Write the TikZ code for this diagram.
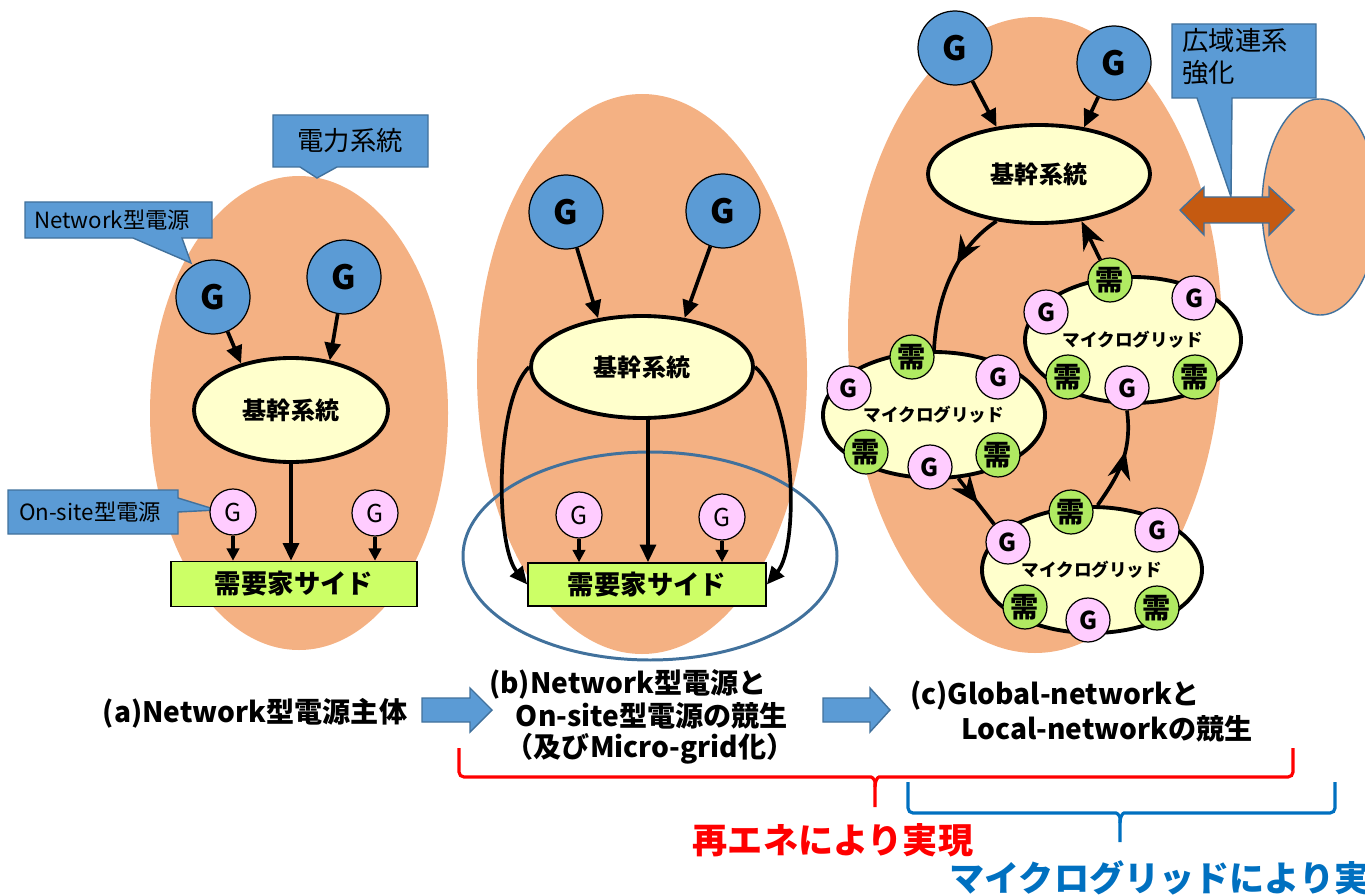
\documentclass[tikz,border=0pt]{standalone}
\usepackage{fontspec}
\setmainfont{Noto Sans CJK JP}
\usetikzlibrary{arrows.meta,shapes.geometric,decorations.markings}
\definecolor{orangeF}{HTML}{F4B183}
\definecolor{blueF}{HTML}{5B9BD5}
\definecolor{blueD}{HTML}{41719C}
\definecolor{yellowF}{HTML}{FFFFCC}
\definecolor{pinkF}{HTML}{FFCCFF}
\definecolor{limeF}{HTML}{CCFF66}
\definecolor{greenF}{HTML}{B0EA62}
\definecolor{brownF}{HTML}{C55A11}
\definecolor{redT}{HTML}{FF0000}
\definecolor{blueT}{HTML}{0070C0}
\newdimen\px \px=0.02cm
\newcommand\fsz[1]{\fontsize{#1}{#1}\selectfont}
\tikzset{
  bigell/.style={ellipse, fill=orangeF, inner sep=0},
  gnet/.style={circle, draw=black, line width=0.7pt, fill=blueF, minimum size=74\px, inner sep=0, font=\fsz{19}\bfseries},
  gsite/.style={circle, draw=black, line width=0.7pt, fill=pinkF, minimum size=46\px, inner sep=0, font=\fsz{14}},
  gmg/.style={circle, draw=black, line width=0.7pt, fill=pinkF, minimum size=44\px, inner sep=0, font=\fsz{14}\bfseries},
  demand/.style={circle, draw=black, line width=0.7pt, fill=greenF, minimum size=44\px, inner sep=0, font=\fsz{16}\bfseries},
  trunk/.style={ellipse, draw=black, line width=2.2pt, fill=yellowF, inner sep=0, font=\fsz{13.7}\bfseries},
  mgrid/.style={ellipse, draw=black, line width=2.2pt, fill=yellowF, inner sep=0, font=\fsz{10}\bfseries},
  consumer/.style={rectangle, draw=black, line width=0.9pt, fill=limeF, inner sep=0, font=\fsz{15}\bfseries},
  calloutshape/.style={fill=blueF, draw=blueD, line width=0.8pt},
  callouttext/.style={inner sep=0, font=\fsz{12.7}},
  flow/.style={-{Triangle[length=10pt,width=9pt]}, line width=2.1pt},
  flowsmall/.style={-{Triangle[length=7pt,width=7pt]}, line width=1.8pt},
  flowbig/.style={-{Stealth[length=16pt,width=13pt]}, line width=2.1pt},
  midflow/.style={line width=2.1pt, postaction={decorate},
    decoration={markings, mark=at position #1 with {\arrow{Stealth[length=16pt,width=13pt]}}}},
  midflow/.default=0.5,
  stagetext/.style={inner sep=0, font=\fsz{16}\bfseries},
  blockarrow/.style={fill=blueF, draw=blueD, line width=0.8pt},
  bracered/.style={draw=redT, line width=1.8pt, rounded corners=5\px},
  braceblue/.style={draw=blueT, line width=1.8pt, rounded corners=5\px},
}
\begin{document}
\begin{tikzpicture}[x=0.02cm,y=-0.02cm]
\useasboundingbox (0,0) rectangle (1365,895);

% ---------- background ellipses ----------
\node[bigell, minimum width=298\px, minimum height=474\px] (sysa) at (299,413) {};
\node[bigell, minimum width=330\px, minimum height=560\px] (sysb) at (642,374) {};
\node[bigell, minimum width=374\px, minimum height=636\px] (sysc) at (1035,335) {};
\node[bigell, draw=blueD, line width=0.8pt, minimum width=116\px, minimum height=216\px] (sysd) at (1320,207) {};

% ---------- panel (a) ----------
\draw[calloutshape] (273,115) -- (428,115) -- (428,167) -- (337,167) -- (317,178) -- (300,167) -- (273,167) -- cycle;
\node[callouttext, font=\fsz{15}] (lbsys) at (350,141) {電力系統};
\draw[calloutshape] (25,202) -- (212,202) -- (212,238) -- (182,238) -- (191,263) -- (133,238) -- (25,238) -- cycle;
\node[callouttext] (lbnet) at (112,220) {Network型電源};
\draw[calloutshape] (8,490) -- (178,490) -- (178,498) -- (217,510) -- (178,512) -- (178,534) -- (8,534) -- cycle;
\node[callouttext] (lbsite) at (90,512) {On-site型電源};

\node[gnet] (ga1) at (213,297) {G};
\node[gnet] (ga2) at (344,277) {G};
\node[trunk, minimum width=194\px, minimum height=104\px] (ta) at (291,410) {基幹系統};
\node[gsite] (pa1) at (233,512) {G};
\node[gsite] (pa2) at (375,513) {G};
\node[consumer, minimum width=246\px, minimum height=45\px] (ca) at (294,584) {需要家サイド};
\draw[flow] (ga1) -- (ta.137);
\draw[flow] (ga2) -- (ta.52);
\draw[flow] (ta.south) -- (ta.south |- ca.north);
\draw[flowsmall] (pa1) -- (pa1 |- ca.north);
\draw[flowsmall] (pa2) -- (pa2 |- ca.north);

% ---------- panel (b) ----------
\node[ellipse, draw=blueD, line width=1.7pt, minimum width=374\px, minimum height=208\px, inner sep=0] (mgb) at (650,556) {};
\node[gnet] (gb1) at (566,212) {G};
\node[gnet] (gb2) at (723,211) {G};
\node[trunk, minimum width=222\px, minimum height=102\px] (tb) at (642,367) {基幹系統};
\node[gsite] (pb1) at (579,515) {G};
\node[gsite] (pb2) at (722,517) {G};
\node[consumer, minimum width=238\px, minimum height=43\px] (cb) at (647,584.5) {需要家サイド};
\coordinate (tbm) at (648,417);
\draw[flow] (gb1) -- (tb.132);
\draw[flow] (gb2) -- (tb.49);
\draw[flow] (tbm) -- (tbm |- cb.north);
\draw[flowsmall] (pb1) -- (pb1 |- cb.north);
\draw[flowsmall] (pb2) -- (pb2 |- cb.north);
\draw[flow] (tb.west) .. controls (495,400) and (495,545) .. (cb.west);
\draw[flow] (tb.east) .. controls (795,400) and (800,545) .. (cb.east);

% ---------- panel (c) ----------
\draw[calloutshape] (1172,24) -- (1316,24) -- (1316,98) -- (1232,98) -- (1231,197) -- (1197,98) -- (1172,98) -- cycle;
\node[callouttext, font=\fsz{15}, align=left, anchor=north west] (lbwide) at (1182,28) {広域連系\\[3pt]強化};
\draw[fill=brownF, draw=blueD, line width=0.8pt] (1180,210) -- (1204,187) -- (1204,197) -- (1269,197) -- (1269,187) -- (1294,210) -- (1269,235) -- (1269,223) -- (1204,223) -- (1204,235) -- cycle;

\node[gnet] (gc1) at (955,48) {G};
\node[gnet] (gc2) at (1114,63) {G};
\node[trunk, minimum width=222\px, minimum height=98\px] (tc) at (1039,174) {基幹系統};

\node[mgrid, minimum width=216\px, minimum height=126\px] (mg1) at (1133,340) {マイクログリッド};
\node[mgrid, minimum width=222\px, minimum height=126\px] (mg2) at (934,415) {マイクログリッド};
\node[mgrid, minimum width=220\px, minimum height=126\px] (mg3) at (1092,570) {マイクログリッド};

\node[demand] (m1d1) at (1110,280) {需};
\node[gmg] (m1g1) at (1046,312) {G};
\node[gmg] (m1g2) at (1194,298) {G};
\node[demand] (m1d2) at (1068,377) {需};
\node[gmg] (m1g3) at (1127,388) {G};
\node[demand] (m1d3) at (1195,377) {需};

\node[demand] (m2d1) at (912,357) {需};
\node[gmg] (m2g1) at (849,388) {G};
\node[gmg] (m2g2) at (998,377) {G};
\node[demand] (m2d2) at (866,452) {需};
\node[gmg] (m2g3) at (930,467) {G};
\node[demand] (m2d3) at (998,455) {需};

\node[demand] (m3d1) at (1071,512) {需};
\node[gmg] (m3g1) at (1008,542) {G};
\node[gmg] (m3g2) at (1157,530) {G};
\node[demand] (m3d2) at (1025,607) {需};
\node[gmg] (m3g3) at (1088,620) {G};
\node[demand] (m3d3) at (1157,608) {需};

\draw[flow] (gc1) -- (tc.132);
\draw[flow] (gc2) -- (tc.46);
\draw[midflow=0.4] (tc.228) .. controls (960,245) and (937,290) .. (mg2.north);
\draw[flowbig] (m1d1) -- (tc.312);
\draw[midflow=0.55] (mg2.291) -- (m3g1);
\draw[midflow=0.6] (mg3.85) .. controls (1115,480) and (1133,455) .. (m1g3.south);

% ---------- stage labels ----------
\node[stagetext] (sa) at (255,713) {(a)Network型電源主体};
\draw[blockarrow] (422,698) -- (470,698) -- (470,688) -- (492,710) -- (470,732) -- (470,722) -- (422,722) -- cycle;
\node[stagetext] (sb1) at (628,684) {(b)Network型電源と};
\node[stagetext] (sb2) at (652,716) {On-site型電源の競生};
\node[stagetext] (sb3) at (650,749) {（及びMicro-grid化）};
\draw[blockarrow] (823,698) -- (870,698) -- (870,688) -- (890,710) -- (870,732) -- (870,722) -- (823,722) -- cycle;
\node[stagetext] (sc1) at (1055,696) {(c)Global-networkと};
\node[stagetext] (sc2) at (1107,729) {Local-networkの競生};

% ---------- braces ----------
\draw[bracered] (459,748) -- (459,777) -- (866,777) .. controls (872,777) and (875,780) .. (875,787) -- (875,807);
\draw[bracered] (875,787) .. controls (875,780) and (878,777) .. (884,777) -- (1293,777) -- (1293,748);
\node[inner sep=0, font=\fsz{20}\bfseries, text=redT] (renew) at (833,840) {再エネにより実現};
\draw[braceblue] (908,782) -- (908,813) -- (1111,813) .. controls (1117,813) and (1120,816) .. (1120,823) -- (1120,842);
\draw[braceblue] (1120,823) .. controls (1120,816) and (1123,813) .. (1129,813) -- (1335,813) -- (1335,782);
\node[inner sep=0, font=\fsz{20}\bfseries, text=blueT, anchor=west] (mgtext) at (949,878) {マイクログリッドにより実現};
\end{tikzpicture}
\end{document}
